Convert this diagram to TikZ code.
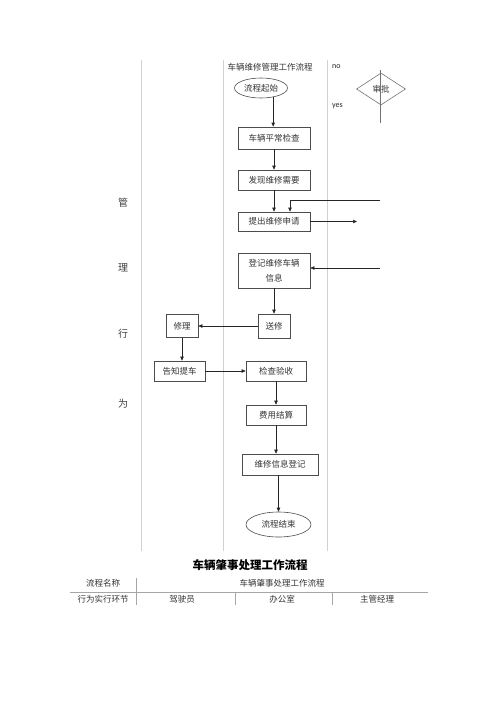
\documentclass[tikz,border=0pt]{standalone}
\usepackage{fontspec}
\setmainfont{Liberation Serif}
\newfontfamily\cjk{Noto Sans CJK SC}
\newfontfamily\lat{Carlito}
\usetikzlibrary{shapes.geometric,arrows.meta}
\begin{document}
\begin{tikzpicture}[x=1pt,y=-1pt,
  box/.style={draw=black!70, line width=0.6pt, inner sep=0pt, text=black!80,
    font=\cjk\fontsize{8.5}{11}\selectfont, align=center},
  oval/.style={box, ellipse},
  arr/.style={-{Triangle[length=4pt,width=3.4pt]}, line width=0.6pt, draw=black!85},
  plain/.style={line width=0.6pt, draw=black!70},
  lane/.style={draw=black!18, line width=0.7pt},
  tline/.style={draw=black!35, line width=0.6pt},
  lbl/.style={inner sep=0pt, text=black!80, font=\cjk\fontsize{8.5}{10}\selectfont},
  side/.style={inner sep=0pt, text=black!75, font=\cjk\fontsize{10}{12}\selectfont},
  en/.style={inner sep=0pt, anchor=west, text=black!85, font=\lat\fontsize{8}{9}\selectfont}]
\useasboundingbox (0,0) rectangle (500,707);
% swim lanes
\draw[lane] (141,60) -- (141,551);
\draw[lane] (223,60) -- (223,551);
\draw[lane] (327,60) -- (327,551);
% headings
\node[lbl] (ttl) at (270,67) {车辆维修管理工作流程};
\node[en] (no) at (332,67) {no};
\node[en] (yes) at (332,106) {yes};
\node[side] (s1) at (123,203) {管};
\node[side] (s2) at (123,268) {理};
\node[side] (s3) at (123,334) {行};
\node[side] (s4) at (123,404) {为};
% decision
\node[box, diamond, draw=black!55, minimum width=49pt, minimum height=32pt] (appr) at (381,89) {审批};
\coordinate (dtop) at (380,70);
\coordinate (dbot) at (380,123);
\draw[plain, draw=black!55] (dtop) -- (dbot);
% flow nodes
\node[oval, minimum width=53pt, minimum height=20pt] (start) at (261,88) {流程起始};
\node[box, minimum width=72pt, minimum height=22pt] (chk) at (274,138) {车辆平常检查};
\node[box, minimum width=72pt, minimum height=20pt] (find) at (274,180) {发现维修需要};
\node[box, minimum width=72pt, minimum height=19pt] (req) at (274,221.5) {提出维修申请};
\node[box, minimum width=72pt, minimum height=35pt, font=\cjk\fontsize{8.5}{15}\selectfont] (reg) at (274,270.5) {登记维修车辆\\信息};
\node[box, minimum width=32pt, minimum height=24pt] (send) at (274,326) {送修};
\node[box, minimum width=32pt, minimum height=23pt] (fix) at (182,326) {修理};
\node[box, minimum width=51pt, minimum height=20pt] (notify) at (179.5,371) {告知提车};
\node[box, minimum width=60pt, minimum height=20pt] (accept) at (276,371) {检查验收};
\node[box, minimum width=60pt, minimum height=20pt] (fee) at (276,415) {费用结算};
\node[box, minimum width=76pt, minimum height=21pt] (log) at (280,464.5) {维修信息登记};
\node[oval, minimum width=65pt, minimum height=25pt] (end) at (278.5,524.5) {流程结束};
% connectors
\draw[arr] (start.-37) -- (start.-37 |- chk.north);
\draw[arr] (chk.south) -- (find.north);
\draw[arr] (find.south) -- (req.north);
\coordinate (in1) at (380,200.7);
\draw[arr] (in1) -| ([xshift=16pt]req.north);
\coordinate (reqout) at (357,221.5);
\draw[arr] (req.east) -- (reqout);
\coordinate (in2) at (380,268);
\draw[arr] (in2) -- (reg.east |- in2);
\draw[arr] (reg.south) -- (send.north);
\draw[arr] (send.west) -- (fix.east);
\draw[arr] (fix.south) -- (fix.south |- notify.north);
\draw[arr] (notify.east) -- (accept.west);
\draw[arr] (accept.south) -- (fee.north);
\draw[arr] (fee.south) -- (fee.south |- log.north);
\draw[arr] (log.south -| end.north) -- (end.north);
% bottom table
\node[inner sep=0pt, text=black, font=\cjk\bfseries\fontsize{11.5}{13}\selectfont] (t2) at (250,565) {车辆肇事处理工作流程};
\node[lbl] (c11) at (103,583) {流程名称};
\node[lbl] (c12) at (282,583) {车辆肇事处理工作流程};
\node[lbl] (c21) at (103,599) {行为实行环节};
\node[lbl] (c22) at (182,599) {驾驶员};
\node[lbl] (c23) at (282,599) {办公室};
\node[lbl] (c24) at (377,599) {主管经理};
\draw[tline] (70,592) -- (428,592);
\draw[tline] (136,578) -- (136,605);
\draw[tline] (235,592) -- (235,605);
\draw[tline] (332,592) -- (332,605);
\end{tikzpicture}
\end{document}
